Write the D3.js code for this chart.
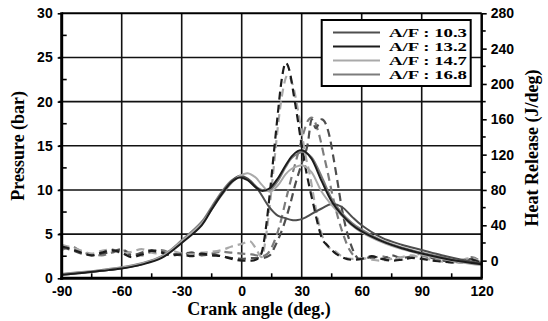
<!DOCTYPE html>
<html><head><meta charset="utf-8">
<script src="https://cdn.jsdelivr.net/npm/d3@7"></script>
<style>body{margin:0;background:#fff;}svg{display:block;}</style>
</head><body><svg id="c" width="548" height="321"></svg>
<script>
// ---- data ----
const seriesNames = ["A/F : 10.3", "A/F : 13.2", "A/F : 14.7", "A/F : 16.8"];
const seriesColors = ["#4e4e4e", "#1c1c1c", "#a9a9a9", "#7c7c7c"];

const xTicks = [-90, -60, -30, 0, 30, 60, 90, 120];
const yLeftTicks = [0, 5, 10, 15, 20, 25, 30];
const yRightTicks = [0, 40, 80, 120, 160, 200, 240, 280];

// Cylinder pressure (bar)
const pAngles = [-90,-80,-70,-60,-50,-40,-30,-20,-15,-10,-5,-1,3,7,10,14,18,22,25,28,30,32,35,40,45,50,55,60,70,80,90,100,110,120];
const p103 = [0.4,0.6,0.85,1.15,1.6,2.4,4.1,6.2,7.9,9.6,11.0,11.6,11.3,10.4,9.4,8.0,7.1,6.8,6.6,6.6,6.7,6.9,7.3,7.9,8.4,8.1,7.0,6.0,4.6,3.8,3.2,2.6,2.1,1.7];
const p132 = [0.4,0.6,0.85,1.1,1.55,2.3,4.0,6.0,7.8,9.5,10.9,11.4,11.1,10.3,9.9,10.2,11.3,12.8,13.8,14.4,14.5,14.3,13.5,11.0,8.7,7.2,6.1,5.3,4.2,3.4,2.8,2.3,1.9,1.6];
const p147 = [0.45,0.65,0.9,1.2,1.65,2.45,4.2,6.2,7.8,9.4,10.8,11.6,11.9,11.4,10.6,9.8,10.5,11.8,12.4,12.7,12.8,12.6,12.0,9.8,8.3,7.1,6.0,5.2,4.1,3.3,2.7,2.2,1.8,1.5];
const p168 = [0.5,0.7,0.95,1.25,1.7,2.5,4.3,6.4,8.1,9.8,11.1,11.5,11.2,10.4,10.0,10.0,11.0,12.6,13.6,14.1,14.3,14.2,13.7,11.5,9.0,7.4,6.3,5.5,4.3,3.5,2.9,2.4,1.9,1.6];

// Heat release (J/deg)
const hrAngles103 = [-90,-85,-80,-75,-70,-65,-60,-55,-50,-45,-40,-35,-30,-25,-20,-15,-10,-5,0,5,10,14,17,21,24,27,30,33,35,37,40,42,44,46,48,50,52,54,56,58,60,65,70,75,80,85,90,95,100,105,110,115,120];
const hr103 = [15,12,8,6,8,10,13,6,9,12,10,7,8,9,6,7,5,3,2,3,3,6,18,40,62,88,110,132,160,150,160,155,140,115,88,60,38,22,10,3,2,4,2,6,3,5,8,3,0,-1,-2,2,-3];
const hrAngles132 = [-90,-85,-80,-75,-70,-65,-60,-55,-50,-45,-40,-35,-30,-25,-20,-15,-10,-5,0,5,8,10,12,14,16,18,20,22,24,26,28,30,32,34,36,38,40,43,46,50,55,60,65,70,75,80,85,90,95,100,105,110,115,120];
const hr132 = [16,13,9,6,9,12,9,4,7,11,9,6,7,5,8,6,5,2,0,0,2,9,35,75,120,165,205,224,214,188,160,130,104,82,62,42,26,17,10,4,1,2,5,2,0,1,3,2,0,-1,-2,-1,1,-3];
const hrAngles147 = [-90,-85,-80,-75,-70,-65,-60,-55,-50,-45,-40,-35,-30,-25,-20,-15,-10,-5,0,4,7,10,12,14,16,18,20,23,26,28,30,32,34,36,38,40,43,46,50,55,60,65,70,75,80,85,90,95,100,105,110,115,120];
const hr147 = [18,15,11,8,11,13,8,10,13,9,8,11,8,7,9,10,12,16,19,22,14,4,25,62,105,150,185,210,195,172,145,118,98,72,48,30,16,12,5,2,3,1,0,2,4,6,3,1,-1,-2,1,3,-3];
const hrAngles168 = [-90,-85,-80,-75,-70,-65,-60,-55,-50,-45,-40,-35,-30,-25,-20,-15,-10,-5,0,5,10,13,16,19,22,25,28,31,33,35,37,39,41,43,45,48,51,54,57,60,65,70,75,80,85,90,95,100,105,110,115,120];
const hr168 = [12,16,10,7,6,9,12,8,6,10,12,8,6,9,7,8,10,9,8,7,5,8,20,40,68,95,120,145,158,162,155,140,120,100,78,50,28,12,4,2,3,5,2,1,4,6,2,0,-2,-1,4,-2];

// ---- drawing ----
const svg = d3.select("#c");
const L = 61.7, R = 481.7, T = 13.3, B = 278.3;
const x = d3.scaleLinear().domain([-90, 120]).range([L, R]);
const yL = d3.scaleLinear().domain([0, 30]).range([B, T]);
const yR = d3.scaleLinear().domain([-20, 280]).range([B, T]);
const fmt = d => String(d);

const sans = "'Liberation Sans', Arial, sans-serif";
const serif = "'Liberation Serif', 'Times New Roman', serif";

// grid
const g = svg.append("g");
g.selectAll(".vg").data(xTicks.filter(d => d > -90 && d < 120)).enter().append("line")
  .attr("x1", d => x(d)).attr("x2", d => x(d)).attr("y1", T).attr("y2", B)
  .attr("stroke", "#111").attr("stroke-width", 1.6);
g.selectAll(".hg").data(yLeftTicks.filter(d => d > 0 && d < 30)).enter().append("line")
  .attr("x1", L - 3).attr("x2", R).attr("y1", d => yL(d)).attr("y2", d => yL(d))
  .attr("stroke", "#111").attr("stroke-width", 1.6);

// series
const lineP = (angles) => d3.line().x((d, i) => x(angles[i])).y(d => yL(d)).curve(d3.curveCatmullRom.alpha(0.5));
const lineH = (angles) => d3.line().x((d, i) => x(angles[i])).y(d => yR(d)).curve(d3.curveMonotoneX);

svg.append("clipPath").attr("id", "pc").append("rect")
  .attr("x", L).attr("y", T).attr("width", R - L).attr("height", B - T);
const plot = svg.append("g").attr("clip-path", "url(#pc)");

const hrSets = [[hrAngles103, hr103], [hrAngles132, hr132], [hrAngles147, hr147], [hrAngles168, hr168]];
const pSets = [p103, p132, p147, p168];
const order = [3, 0, 2, 1];
order.forEach(i => {
  plot.append("path").attr("d", lineH(hrSets[i][0])(hrSets[i][1]))
    .attr("fill", "none").attr("stroke", seriesColors[i]).attr("stroke-width", 2.2)
    .attr("stroke-dasharray", "8,5");
});
order.forEach(i => {
  plot.append("path").attr("d", lineP(pAngles)(pSets[i]))
    .attr("fill", "none").attr("stroke", seriesColors[i]).attr("stroke-width", 2);
});

// frame
svg.append("line").attr("x1", L).attr("x2", R).attr("y1", T).attr("y2", T).attr("stroke", "#000").attr("stroke-width", 2);
svg.append("line").attr("x1", R).attr("x2", R).attr("y1", T).attr("y2", B).attr("stroke", "#000").attr("stroke-width", 2.5);
svg.append("line").attr("x1", L).attr("x2", L).attr("y1", T - 1).attr("y2", B + 1.5).attr("stroke", "#000").attr("stroke-width", 3);
svg.append("line").attr("x1", L - 1.5).attr("x2", R + 1).attr("y1", B).attr("y2", B).attr("stroke", "#000").attr("stroke-width", 3);

// left axis
const axL = svg.append("g").attr("transform", `translate(${L},0)`)
  .call(d3.axisLeft(yL).tickValues(yLeftTicks).tickFormat(fmt).tickSize(4).tickPadding(5));
axL.select(".domain").remove();
axL.selectAll("line").attr("stroke", "#000").attr("stroke-width", 1.6);
axL.selectAll("text").attr("font-family", sans).attr("font-weight", "bold").attr("font-size", 14).attr("fill", "#000");
const minorL = d3.range(2.5, 30, 5);
svg.append("g").selectAll("line").data(minorL).enter().append("line")
  .attr("x1", L).attr("x2", L + 5).attr("y1", d => yL(d)).attr("y2", d => yL(d))
  .attr("stroke", "#000").attr("stroke-width", 1.6);

// bottom axis
const axB = svg.append("g").attr("transform", `translate(0,${B})`)
  .call(d3.axisBottom(x).tickValues(xTicks).tickFormat(fmt).tickSize(0).tickPadding(8));
axB.select(".domain").remove();
axB.selectAll("text").attr("font-family", sans).attr("font-weight", "bold").attr("font-size", 14).attr("fill", "#000");
svg.append("g").selectAll("line").data(d3.range(-75, 120, 30)).enter().append("line")
  .attr("x1", d => x(d)).attr("x2", d => x(d)).attr("y1", B).attr("y2", B - 5)
  .attr("stroke", "#000").attr("stroke-width", 1.6);

// right axis
const axR = svg.append("g").attr("transform", `translate(${R},0)`)
  .call(d3.axisRight(yR).tickValues(yRightTicks).tickFormat(fmt).tickSize(5).tickPadding(4));
axR.select(".domain").remove();
axR.selectAll("line").attr("stroke", "#000").attr("stroke-width", 1.6);
axR.selectAll("text").attr("font-family", sans).attr("font-weight", "bold").attr("font-size", 14).attr("fill", "#000");
svg.append("g").selectAll("line").data(d3.range(20, 280, 40)).enter().append("line")
  .attr("x1", R).attr("x2", R + 4).attr("y1", d => yR(d)).attr("y2", d => yR(d))
  .attr("stroke", "#000").attr("stroke-width", 1.6);

// titles
svg.append("text").attr("transform", `translate(24,${(T + B) / 2}) rotate(-90)`)
  .attr("text-anchor", "middle").attr("font-family", serif).attr("font-weight", "bold")
  .attr("font-size", 18).text("Pressure (bar)");
svg.append("text").attr("transform", `translate(538,148) rotate(-90)`)
  .attr("text-anchor", "middle").attr("font-family", serif).attr("font-weight", "bold")
  .attr("font-size", 18).text("Heat Release (J/deg)");
svg.append("text").attr("x", 259).attr("y", 315).attr("text-anchor", "middle")
  .attr("font-family", serif).attr("font-weight", "bold").attr("font-size", 18)
  .text("Crank angle (deg.)");

// legend
const lg = svg.append("g");
lg.append("rect").attr("x", 321.7).attr("y", 20).attr("width", 149).attr("height", 66)
  .attr("fill", "#fff").attr("stroke", "#000").attr("stroke-width", 2);
seriesNames.forEach((n, i) => {
  const yy = 32.5 + i * 14;
  lg.append("line").attr("x1", 333).attr("x2", 380).attr("y1", yy).attr("y2", yy)
    .attr("stroke", seriesColors[i]).attr("stroke-width", 2);
  lg.append("text").attr("x", 389).attr("y", yy).attr("dy", "0.35em")
    .attr("font-family", serif).attr("font-weight", "bold").attr("font-size", 12.5)
    .attr("textLength", 78).attr("lengthAdjust", "spacingAndGlyphs").text(n);
});
</script></body></html>
